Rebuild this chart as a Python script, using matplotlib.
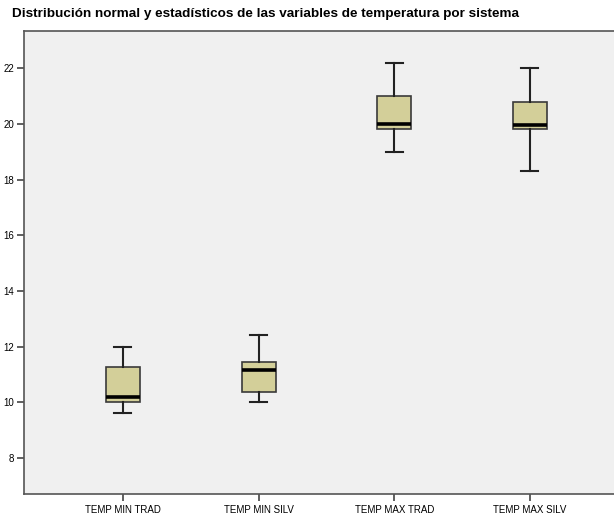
import matplotlib
matplotlib.use("Agg")
import matplotlib.pyplot as plt

# datos (diagrama de cajas por variable)
categorias = ["TEMP MIN TRAD", "TEMP MIN SILV", "TEMP MAX TRAD", "TEMP MAX SILV"]
bigote_inf = [9.6, 10.0, 19.0, 18.3]
q1 = [10.0, 10.35, 19.8, 19.8]
mediana = [10.2, 11.16, 20.0, 19.95]
q3 = [11.25, 11.46, 21.0, 20.8]
bigote_sup = [12.0, 12.42, 22.2, 22.0]
yticks = [8, 10, 12, 14, 16, 18, 20, 22]

plt.rcParams["font.family"] = ["Liberation Sans", "DejaVu Sans"]

stats = [dict(label=c, whislo=lo, q1=a, med=m, q3=b, whishi=hi, fliers=[])
         for c, lo, a, m, b, hi in zip(categorias, bigote_inf, q1, mediana, q3, bigote_sup)]

fig = plt.figure(figsize=(6.14, 5.16), dpi=100)
ax = fig.add_axes([0.039, 0.0426, 0.97, 0.898])
ax.set_facecolor("#f0f0f0")

ax.bxp(stats, positions=[1, 2, 3, 4], widths=0.25, patch_artist=True, showfliers=False,
       boxprops=dict(facecolor="#d3cf99", edgecolor="#3a3a3a", linewidth=1.2),
       medianprops=dict(color="black", linewidth=2.6),
       whiskerprops=dict(color="#222222", linewidth=1.5),
       capprops=dict(color="#222222", linewidth=1.5),
       capwidths=0.125)

ax.set_xlim(0.271, 4.66)
ax.set_ylim(6.7, 23.35)
ax.set_yticks(yticks)
ax.set_xticks([1, 2, 3, 4])
ax.set_xticklabels(categorias)
ax.tick_params(axis="both", direction="out", length=5, width=1.2, color="#444444",
               labelsize=7, pad=2)
ax.tick_params(axis="x", pad=3)
for s in ax.spines.values():
    s.set_color("#555555")
    s.set_linewidth(1.2)
ax.spines["right"].set_visible(False)

fig.text(0.0195, 0.972, "Distribución normal y estadísticos de las variables de temperatura por sistema",
         fontsize=9.7, fontweight="bold", ha="left", va="center")

fig.savefig("out.png", dpi=100, facecolor="white")
